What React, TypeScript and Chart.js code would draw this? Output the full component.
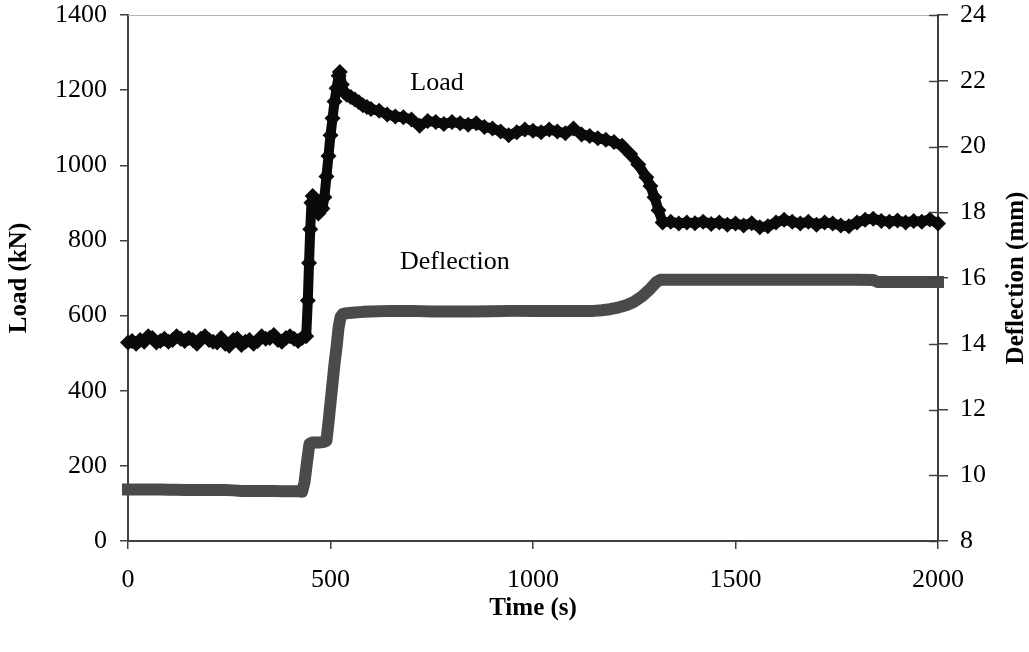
import React, { useEffect, useRef } from "react";
import { Chart, registerables } from "chart.js";

Chart.register(...registerables);

const loadTimes = [
  0, 10, 20, 30, 40, 50, 60, 70, 80, 90, 100, 110, 120, 130, 140, 150, 160, 170, 180, 190,
  200, 210, 220, 230, 240, 250, 260, 270, 280, 290, 300, 310, 320, 330, 340, 350, 360, 370, 380, 390,
  400, 410, 420, 430, 440, 444, 447, 450, 453, 456, 460, 465, 470, 475, 480, 485, 490, 495, 500, 505,
  510, 515, 520, 523, 528, 533, 540, 550, 560, 570, 580, 590, 600, 620, 640, 660, 680, 700, 720, 740,
  760, 780, 800, 820, 840, 860, 880, 900, 920, 940, 960, 980, 1000, 1020, 1040, 1060, 1080, 1100, 1120, 1140,
  1160, 1180, 1200, 1220, 1240, 1260, 1280, 1290, 1300, 1310, 1320, 1340, 1360, 1380, 1400, 1420, 1440, 1460, 1480, 1500,
  1520, 1540, 1560, 1580, 1600, 1620, 1640, 1660, 1680, 1700, 1720, 1740, 1760, 1780, 1800, 1820, 1840, 1860, 1880, 1900,
  1920, 1940, 1960, 1980, 2000,
];
const loadValues = [
  528, 532, 525, 535, 530, 545, 540, 528, 532, 538, 530, 535, 545, 538, 532, 540, 535, 525, 538, 545,
  535, 530, 528, 540, 525, 520, 535, 538, 522, 530, 535, 525, 532, 545, 538, 540, 548, 535, 530, 540,
  545, 538, 532, 540, 545, 640, 740, 830, 900, 918, 905, 885, 872, 880, 885, 915, 970, 1025, 1080, 1125,
  1170, 1205, 1238, 1248, 1215, 1195, 1188, 1182, 1175, 1168, 1160, 1155, 1150, 1145, 1135, 1130, 1128, 1122, 1105, 1118,
  1115, 1110, 1115, 1112, 1108, 1112, 1102, 1098, 1090, 1080, 1088, 1095, 1092, 1088, 1095, 1090, 1085, 1098, 1082, 1078,
  1072, 1068, 1062, 1052, 1030, 1002, 968, 945, 915, 880, 848, 850, 845, 848, 846, 850, 844, 848, 842, 845,
  840, 846, 835, 838, 848, 855, 850, 845, 850, 842, 848, 845, 840, 838, 848, 855, 858, 852, 850, 853,
  848, 852, 850, 856, 845,
];

const deflTimes = [
  0, 20, 40, 60, 80, 100, 120, 140, 160, 180, 200, 220, 240, 260, 280, 300, 320, 340, 360, 380,
  400, 420, 430, 436, 442, 448, 455, 465, 475, 485, 490, 495, 500, 505, 510, 515, 520, 525, 530, 540,
  560, 580, 600, 650, 700, 750, 800, 850, 900, 950, 1000, 1050, 1100, 1150, 1170, 1190, 1210, 1230, 1250, 1270,
  1290, 1305, 1315, 1350, 1400, 1500, 1600, 1700, 1800, 1840, 1850, 1900, 1950, 2000,
];
const deflValues = [
  9.57, 9.57, 9.57, 9.57, 9.57, 9.56, 9.56, 9.55, 9.55, 9.55, 9.55, 9.55, 9.55, 9.54, 9.52, 9.52, 9.52, 9.52, 9.52, 9.51,
  9.51, 9.51, 9.5, 9.8, 10.4, 10.95, 11.0, 11.0, 11.0, 11.02, 11.05, 11.6, 12.2, 12.8, 13.4, 13.9, 14.5, 14.82, 14.9, 14.93,
  14.95, 14.97, 14.98, 15.0, 15.0, 14.98, 14.98, 14.98, 14.99, 15.0, 15.0, 15.0, 15.0, 15.0, 15.02, 15.05, 15.1, 15.17, 15.28, 15.45,
  15.68, 15.88, 15.95, 15.95, 15.95, 15.95, 15.95, 15.95, 15.95, 15.94, 15.88, 15.88, 15.88, 15.88,
];

const xTickValues = [0, 500, 1000, 1500, 2000];
const leftTickValues = [0, 200, 400, 600, 800, 1000, 1200, 1400];
const rightTickValues = [8, 10, 12, 14, 16, 18, 20, 22, 24];

const xTitle = "Time (s)";
const leftTitle = "Load (kN)";
const rightTitle = "Deflection (mm)";
const loadLabel = { text: "Load", t: 763, v: 1219 };
const deflLabel = { text: "Deflection", t: 807, v: 16.49 };

const FONT = '"Liberation Serif", "Times New Roman", serif';
const AXIS = "#404040";
const LOAD_COLOR = "#0a0a0a";
const DEFL_COLOR = "#4a4a4a";

const plainLabel = (v: any) => String(v);

const zeroPad = (s: any) => {
  s.paddingTop = 0;
  s.paddingBottom = 0;
  s.paddingLeft = 0;
  s.paddingRight = 0;
};

const overlayPlugin = {
  id: "overlay",
  beforeDatasetsDraw(chart: any) {
    const { ctx, chartArea } = chart;
    ctx.save();
    ctx.strokeStyle = "#b4b4b4";
    ctx.lineWidth = 1;
    ctx.beginPath();
    ctx.moveTo(chartArea.left, chartArea.top + 0.5);
    ctx.lineTo(chartArea.right, chartArea.top + 0.5);
    ctx.stroke();
    ctx.restore();
  },
  afterDraw(chart: any) {
    const { ctx, chartArea, scales } = chart;
    const xs = scales.x;
    const yl = scales.y;
    const yr = scales.y1;
    ctx.save();
    ctx.strokeStyle = AXIS;
    ctx.lineWidth = 1.5;
    for (const v of rightTickValues) {
      const py = Math.round(yr.getPixelForValue(v)) + 0.5;
      ctx.beginPath();
      ctx.moveTo(chartArea.right - 9, py);
      ctx.lineTo(chartArea.right, py);
      ctx.stroke();
    }
    ctx.fillStyle = "#000";
    ctx.font = `bold 25px ${FONT}`;
    ctx.textAlign = "center";
    ctx.textBaseline = "middle";
    ctx.save();
    ctx.translate(chart.width - 12, (chartArea.top + chartArea.bottom) / 2);
    ctx.rotate(-Math.PI / 2);
    ctx.fillText(rightTitle, 0, 0);
    ctx.restore();
    ctx.font = `26px ${FONT}`;
    ctx.fillText(loadLabel.text, xs.getPixelForValue(loadLabel.t), yl.getPixelForValue(loadLabel.v));
    ctx.fillText(deflLabel.text, xs.getPixelForValue(deflLabel.t), yr.getPixelForValue(deflLabel.v));
    ctx.restore();
  },
};

export default function App() {
  const ref = useRef<HTMLCanvasElement | null>(null);

  useEffect(() => {
    if (!ref.current) return;
    const loadData = loadTimes.map((t, i) => ({ x: t, y: loadValues[i] }));
    const deflData = deflTimes.map((t, i) => ({ x: t, y: deflValues[i] }));

    const chart = new Chart(ref.current, {
      type: "line",
      data: {
        datasets: [
          {
            label: "Load",
            data: loadData,
            yAxisID: "y",
            borderColor: LOAD_COLOR,
            backgroundColor: LOAD_COLOR,
            borderWidth: 10,
            borderJoinStyle: "round",
            pointStyle: "rectRot",
            pointRadius: 8,
            pointBorderWidth: 0,
            pointBackgroundColor: LOAD_COLOR,
            tension: 0,
            clip: false,
          },
          {
            label: "Deflection",
            data: deflData,
            yAxisID: "y1",
            borderColor: DEFL_COLOR,
            backgroundColor: DEFL_COLOR,
            borderWidth: 12,
            borderJoinStyle: "round",
            borderCapStyle: "square",
            pointRadius: 0,
            tension: 0,
            clip: false,
          },
        ],
      },
      options: {
        responsive: false,
        animation: false,
        devicePixelRatio: 1,
        layout: { padding: { top: 15, left: 0, right: 0, bottom: 0 } },
        plugins: {
          legend: { display: false },
          tooltip: { enabled: false },
        },
        scales: {
          x: {
            type: "linear",
            min: 0,
            max: 2000,
            afterBuildTicks: (s: any) => {
              s.ticks = xTickValues.map((v) => ({ value: v }));
            },
            afterFit: (s: any) => {
              s.height = 111;
              zeroPad(s);
            },
            ticks: { color: "#000", font: { family: FONT, size: 26 }, padding: 16, maxRotation: 0, callback: plainLabel },
            grid: { drawOnChartArea: false, drawTicks: true, tickLength: 8, color: AXIS, lineWidth: 1.5 },
            border: { color: AXIS, width: 2 },
            title: {
              display: true,
              text: xTitle,
              color: "#000",
              font: { family: FONT, size: 25, weight: "bold" },
              padding: { top: 0, bottom: 28 },
            },
          },
          y: {
            type: "linear",
            position: "left",
            min: 0,
            max: 1400,
            afterBuildTicks: (s: any) => {
              s.ticks = leftTickValues.map((v) => ({ value: v }));
            },
            afterFit: (s: any) => {
              s.width = 128;
              zeroPad(s);
            },
            ticks: { color: "#000", font: { family: FONT, size: 26 }, padding: 13, callback: plainLabel },
            grid: { drawOnChartArea: false, drawTicks: true, tickLength: 8, color: AXIS, lineWidth: 1.5 },
            border: { color: AXIS, width: 2 },
            title: {
              display: true,
              text: leftTitle,
              color: "#000",
              font: { family: FONT, size: 25, weight: "bold" },
              padding: { top: 5, bottom: 0 },
            },
          },
          y1: {
            type: "linear",
            position: "right",
            min: 8,
            max: 24,
            afterBuildTicks: (s: any) => {
              s.ticks = rightTickValues.map((v) => ({ value: v }));
            },
            afterFit: (s: any) => {
              s.width = 91;
              zeroPad(s);
            },
            ticks: { color: "#000", font: { family: FONT, size: 26 }, padding: 12, callback: plainLabel },
            grid: { drawOnChartArea: false, drawTicks: true, tickLength: 10, color: AXIS, lineWidth: 1.5 },
            border: { color: AXIS, width: 2 },
          },
        },
      },
      plugins: [overlayPlugin],
    } as any);

    return () => chart.destroy();
  }, []);

  return (
    <canvas
      ref={ref}
      width={1029}
      height={652}
      style={{ position: "fixed", left: 0, top: 0, width: 1029, height: 652, display: "block" }}
    />
  );
}
